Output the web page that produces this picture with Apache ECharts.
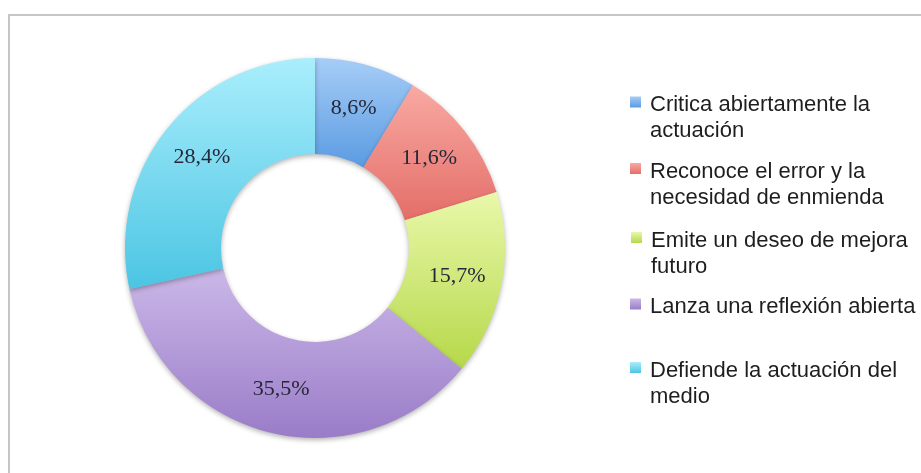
<!DOCTYPE html>
<html>
<head>
<meta charset="utf-8">
<script src="https://cdn.jsdelivr.net/npm/echarts@6/dist/echarts.min.js"></script>
<style>
html,body{margin:0;padding:0;background:#fff;}
#chart{width:921px;height:473px;}
</style>
</head>
<body>
<div id="chart"></div>
<script>
var categories = [
  'Critica abiertamente la actuación',
  'Reconoce el error y la necesidad de enmienda',
  'Emite un deseo de mejora futuro',
  'Lanza una reflexión abierta',
  'Defiende la actuación del medio'
];
var legendLines = [
  ['Critica abiertamente la', 'actuación'],
  ['Reconoce el error y la', 'necesidad de enmienda'],
  ['Emite un deseo de mejora', 'futuro'],
  ['Lanza una reflexión abierta'],
  ['Defiende la actuación del', 'medio']
];
var values = [8.6, 11.6, 15.7, 35.5, 28.4];
var labelTexts = ['8,6%', '11,6%', '15,7%', '35,5%', '28,4%'];

var gradStops = [
  ['#a6cdf7', '#5b9be2'],
  ['#f9a9a3', '#e46e68'],
  ['#e9f8aa', '#b6d84a'],
  ['#cbb8e8', '#9a7cc8'],
  ['#aaeefc', '#4bc5e3']
];
function grad(i) {
  return new echarts.graphic.LinearGradient(0, 0, 0, 1, [
    {offset: 0, color: gradStops[i][0]},
    {offset: 1, color: gradStops[i][1]}
  ]);
}

var legendTops = [73, 139.5, 208.5, 288, 338.5];
var legendLefts = [630, 630, 631, 630, 630];
var legends = categories.map(function (name, i) {
  var lines = legendLines[i];
  var blank = lines.length > 1 ? 32 : 6;
  return {
    data: [name],
    orient: 'vertical',
    left: legendLefts[i],
    top: legendTops[i],
    padding: 0,
    itemWidth: 11,
    itemHeight: 11,
    icon: 'rect',
    selectedMode: false,
    formatter: function () {
      return '{g| }\n' + lines.map(function (l) { return '{t|' + l + '}'; }).join('\n');
    },
    textStyle: {
      padding: [0, 0, 0, 4],
      rich: {
        g: {fontSize: 6, lineHeight: blank},
        t: {
          fontFamily: 'Liberation Sans, Arial, sans-serif',
          fontSize: 22,
          lineHeight: 26,
          color: '#1e1e1e'
        }
      }
    }
  };
});

var chart = echarts.init(document.getElementById('chart'), null, {renderer: 'canvas'});
chart.setOption({
  animation: false,
  backgroundColor: '#ffffff',
  graphic: [{
    type: 'rect',
    shape: {x: 9, y: 15, width: 930, height: 480},
    style: {fill: 'none', stroke: '#c6c6c6', lineWidth: 2},
    silent: true
  }],
  legend: legends,
  series: [{
    type: 'pie',
    center: [315, 248],
    radius: [94, 190],
    startAngle: 90,
    clockwise: true,
    avoidLabelOverlap: false,
    emphasis: {disabled: true},
    itemStyle: {
      shadowBlur: 5,
      shadowColor: 'rgba(0,0,0,0.3)',
      shadowOffsetY: 2
    },
    label: {
      show: true,
      position: 'inside',
      fontFamily: 'Liberation Serif, Times New Roman, serif',
      fontSize: 22,
      color: '#26283a',
      formatter: function (p) { return labelTexts[p.dataIndex]; }
    },
    labelLine: {show: false},
    data: categories.map(function (name, i) {
      return {name: name, value: values[i], itemStyle: {color: grad(i)}};
    })
  }]
});
</script>
</body>
</html>
